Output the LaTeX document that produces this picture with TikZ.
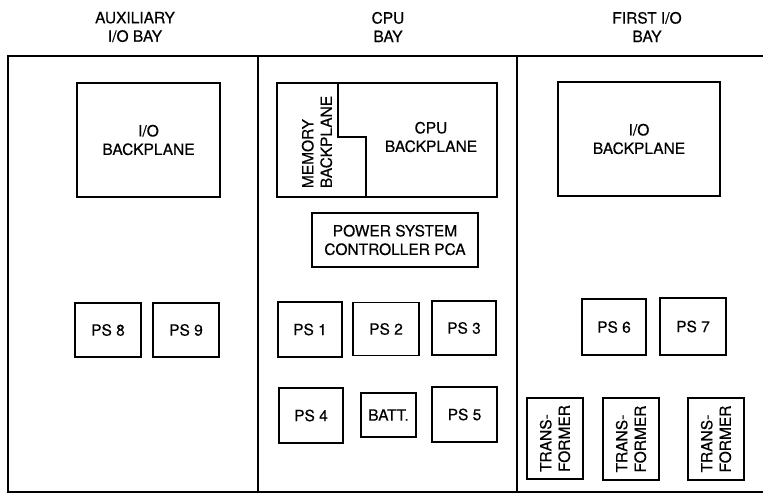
\documentclass[tikz,border=0pt]{standalone}
\usepackage{fontspec}
\newfontfamily\labelfont{TeX Gyre Heros}[UprightFeatures={FakeBold=0.4}]
\begin{document}
\begin{tikzpicture}[x=1pt,y=-1pt,
  every node/.style={font=\labelfont\fontsize{15.5}{18.5}\selectfont, align=center, inner sep=0pt},
  frameline/.style={line width=2.4pt},
  box/.style={draw, line width=1.6pt, minimum width=#1},
  box/.default=64pt,
  tall/.style={rotate=90, align=left}]
\useasboundingbox (0,0) rectangle (763,497);
% headers
\node (hAux) at (135,27) {AUXILIARY\\I/O BAY};
\node (hCpu) at (388,27) {CPU\\BAY};
\node (hFirst) at (647,27) {FIRST I/O\\BAY};
% frame
\coordinate (tl) at (8,56);
\coordinate (tr) at (763,56);
\coordinate (bl) at (8,492);
\coordinate (br) at (763,492);
\coordinate (d1t) at (258,56);
\coordinate (d1b) at (258,492);
\coordinate (d2t) at (517,56);
\coordinate (d2b) at (517,492);
\draw[frameline] (tr) -- (tl) -- (bl) -- (br);
\draw[frameline] (d1t) -- (d1b);
\draw[frameline] (d2t) -- (d2b);
% auxiliary bay
\node[box=143pt, minimum height=114pt] (iobL) at (148.5,140) {I/O\\BACKPLANE};
\node[box=66pt, minimum height=54pt] (ps8) at (108,330) {PS 8};
\node[box=66pt, minimum height=54pt] (ps9) at (186,330) {PS 9};
% cpu bay
\node[box=220pt, minimum height=114pt] (cpubp) at (387,140) {};
\coordinate (n1) at (338,83);
\coordinate (n2) at (338,137);
\coordinate (n3) at (366,137);
\coordinate (n4) at (366,197);
\draw[line width=1.6pt] (cpubp.north west -| n1) -- (n2) -- (n3) -- (cpubp.south west -| n4);
\node[tall] (mem) at (317,142) {MEMORY\\BACKPLANE};
\node (cpuT) at (431,137) {CPU\\BACKPLANE};
\node[box=166pt, minimum height=54pt] (psc) at (395,240) {POWER SYSTEM\\CONTROLLER PCA};
\node[box=64pt, minimum height=55pt] (ps1) at (310,329.5) {PS 1};
\node[box=66pt, minimum height=53pt] (ps2) at (386,329) {PS 2};
\node[box=64pt, minimum height=54pt] (ps3) at (464,328) {PS 3};
\node[box=64pt, minimum height=55pt] (ps4) at (311,415.5) {PS 4};
\node[box=55pt, minimum height=44pt] (batt) at (388.5,415) {BATT.};
\node[box=65pt, minimum height=55pt] (ps5) at (464.5,414.5) {PS 5};
% first i/o bay
\node[box=162pt, minimum height=114pt] (iobR) at (639,139) {I/O\\BACKPLANE};
\node[box=64pt, minimum height=56pt] (ps6) at (614,327) {PS 6};
\node[box=66pt, minimum height=57pt] (ps7) at (693,326.5) {PS 7};
\node[box=56pt, minimum height=81pt] (t1) at (555,438.5) {};
\node[tall] at (t1) {TRANS-\\FORMER};
\node[box=56pt, minimum height=82pt] (t2) at (631,439) {};
\node[tall] at (t2) {TRANS-\\FORMER};
\node[box=56pt, minimum height=82pt] (t3) at (716,439) {};
\node[tall] at (t3) {TRANS-\\FORMER};
\end{tikzpicture}
\end{document}
